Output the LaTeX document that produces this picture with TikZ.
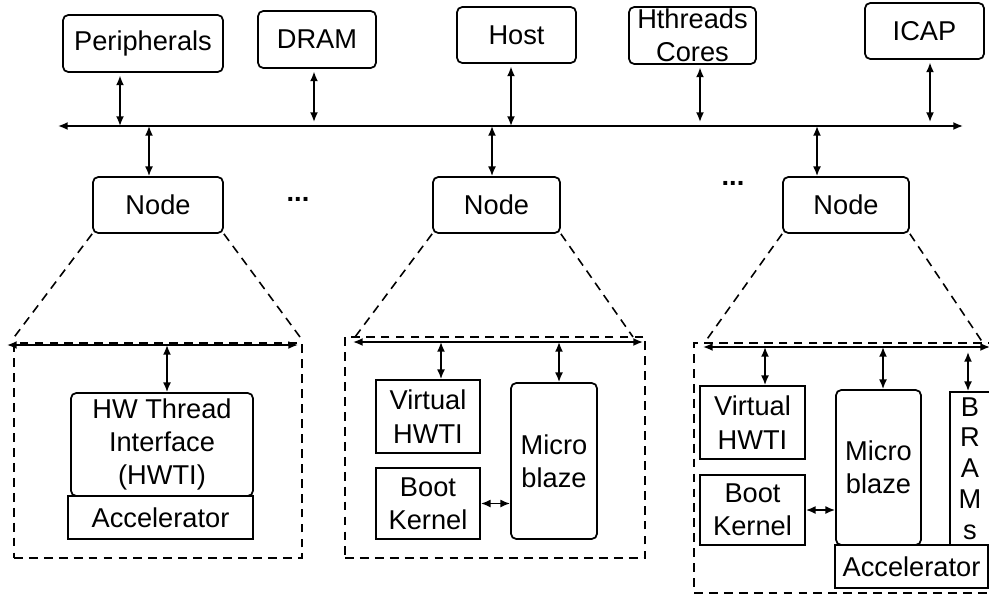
\documentclass[tikz,border=0pt]{standalone}
\usepackage{fontspec}
\setmainfont{Liberation Sans}
\usepackage{tikz}
\usetikzlibrary{arrows}
\usetikzlibrary{arrows.meta}
\usetikzlibrary{calc}
\tikzstyle{rbox} = [draw, rounded corners=3pt, line width=1pt, align=center, inner sep=0pt]
\tikzstyle{sbox} = [draw, line width=1pt, align=center, inner sep=0pt]
\tikzstyle{zoombox} = [draw, line width=1pt, dash pattern=on 5pt off 3.5pt, inner sep=0pt]
\tikzstyle{zoomline} = [line width=0.9pt, dash pattern=on 5pt off 3.5pt]
\tikzstyle{biarrow} = [{Latex[length=5.5pt, width=4.5pt]}-{Latex[length=5.5pt, width=4.5pt]}, line width=0.9pt]
\tikzset{wh/.style 2 args={minimum width=#1*0.02cm, minimum height=#2*0.02cm}}

\begin{document}
\begin{tikzpicture}[x=0.02cm, y=-0.02cm, font=\fontsize{15.5}{19}\selectfont]
	\useasboundingbox (0, 0) rectangle (989, 598);
	\clip (0, 0) rectangle (989, 598);
	
	\node[rbox, wh={160}{57}] (per) at (143, 43.5) {Peripherals};
	\node[rbox, wh={118}{57}] (dram) at (317, 39.5) {DRAM};
	\node[rbox, wh={119}{56}] (host) at (516.5, 35) {Host};
	\node[rbox, wh={127}{57}] (hth) at (692.5, 35.5) {Hthreads\\Cores};
	\node[rbox, wh={119}{56}] (icap) at (924.5, 31) {ICAP};
	
	\coordinate (busL) at (58, 126);
	\coordinate (busR) at (963, 126);
	\draw[biarrow] (busL) -- (busR);
	
	\foreach \name/\xpos/\ypos in {per/120/126, dram/314/122, host/511/126, hth/700/122, icap/930/122}
	{
		\coordinate (\name') at (\xpos, \ypos);
		\draw[biarrow, shorten <=1.5pt] (\name.south -| \name') -- (\name');
	}
	
	\node[rbox, wh={130}{56}] (n1) at (158, 205) {Node};
	\node[rbox, wh={127}{56}] (n2) at (496.5, 205) {Node};
	\node[rbox, wh={126}{56}] (n3) at (846, 205) {Node};
	
	\foreach \name/\xpos in {n1/149, n2/492, n3/817}
	{
		\coordinate (\name') at (\xpos, 126);
		\draw[biarrow] (\name') -- (\name.north -| \name');
	}
	
	\node[inner sep=0pt] (dots1) at (298, 199) {\textbf{...}};
	\node[inner sep=0pt] (dots2) at (733, 183) {\textbf{...}};
	
	
	\node[zoombox, wh={288}{215}] (p1) at (158, 450.5) {};
	\coordinate (bus1L) at (7, 345);
	\coordinate (bus1R) at (298, 345);
	\draw[biarrow] (bus1L) -- (bus1R);
	\coordinate (z1L) at (12, 340);
	\coordinate (z1R) at (300, 337);
	\draw[zoomline] (n1.south west) -- (z1L);
	\draw[zoomline] (n1.south east) -- (z1R);
	
	\node[rbox, wh={182}{103}] (hwti) at (162, 444.5) {HW Thread\\Interface\\(HWTI)};
	\node[sbox, wh={185}{43}] (acc1) at (160.5, 517.5) {Accelerator};
	\coordinate (hwti') at (167, 345);
	\draw[biarrow] (hwti') -- (hwti.north -| hwti');
	
	
	\node[zoombox, wh={300}{221}] (p2) at (495, 447.5) {};
	\coordinate (bus2L) at (353, 342);
	\coordinate (bus2R) at (643, 342);
	\draw[biarrow] (bus2L) -- (bus2R);
	\coordinate (z2L) at (355, 337);
	\coordinate (z2R) at (633, 337);
	\draw[zoomline] (n2.south west) -- (z2L);
	\draw[zoomline] (n2.south east) -- (z2R);
	
	\node[sbox, wh={104}{73}] (virt2) at (428, 416.5) {Virtual\\HWTI};
	\node[sbox, wh={104}{71}] (boot2) at (428, 503.5) {Boot\\Kernel};
	\node[rbox, wh={86}{156}] (mb2) at (554, 461) {Micro\\blaze};
	\foreach \name/\xpos in {virt2/441, mb2/559}
	{
		\coordinate (\name') at (\xpos, 342);
		\draw[biarrow] (\name') -- (\name.north -| \name');
	}
	\draw[biarrow] (boot2.east) -- (boot2.east -| mb2.west);
	
	
	\node[zoombox, wh={310}{250}] (p3) at (849, 468) {};
	\coordinate (bus3L) at (703, 347);
	\coordinate (bus3R) at (990, 347);
	\draw[biarrow] (bus3L) -- (bus3R);
	\coordinate (z3L) at (705, 342);
	\coordinate (z3R) at (983, 343);
	\draw[zoomline] (n3.south west) -- (z3L);
	\draw[zoomline] (n3.south east) -- (z3R);
	
	\node[sbox, wh={105}{73}] (virt3) at (752.5, 422.5) {Virtual\\HWTI};
	\node[sbox, wh={105}{70}] (boot3) at (752.5, 510) {Boot\\Kernel};
	\node[rbox, wh={85}{155}] (mb3) at (878.5, 467.5) {Micro\\blaze};
	\node[sbox, wh={40}{153}, font=\fontsize{15.5}{17.5}\selectfont] (brams) at (970, 468.5) {B\\R\\A\\M\\s};
	\node[sbox, wh={153}{43}] (acc3) at (911.5, 566.5) {Accelerator};
	\foreach \name/\xpos/\ypos in {virt3/765/347, mb3/883/347, brams/968/352}
	{
		\coordinate (\name') at (\xpos, \ypos);
		\draw[biarrow] (\name') -- (\name.north -| \name');
	}
	\draw[biarrow] (boot3.east) -- (boot3.east -| mb3.west);
\end{tikzpicture}
\end{document}
